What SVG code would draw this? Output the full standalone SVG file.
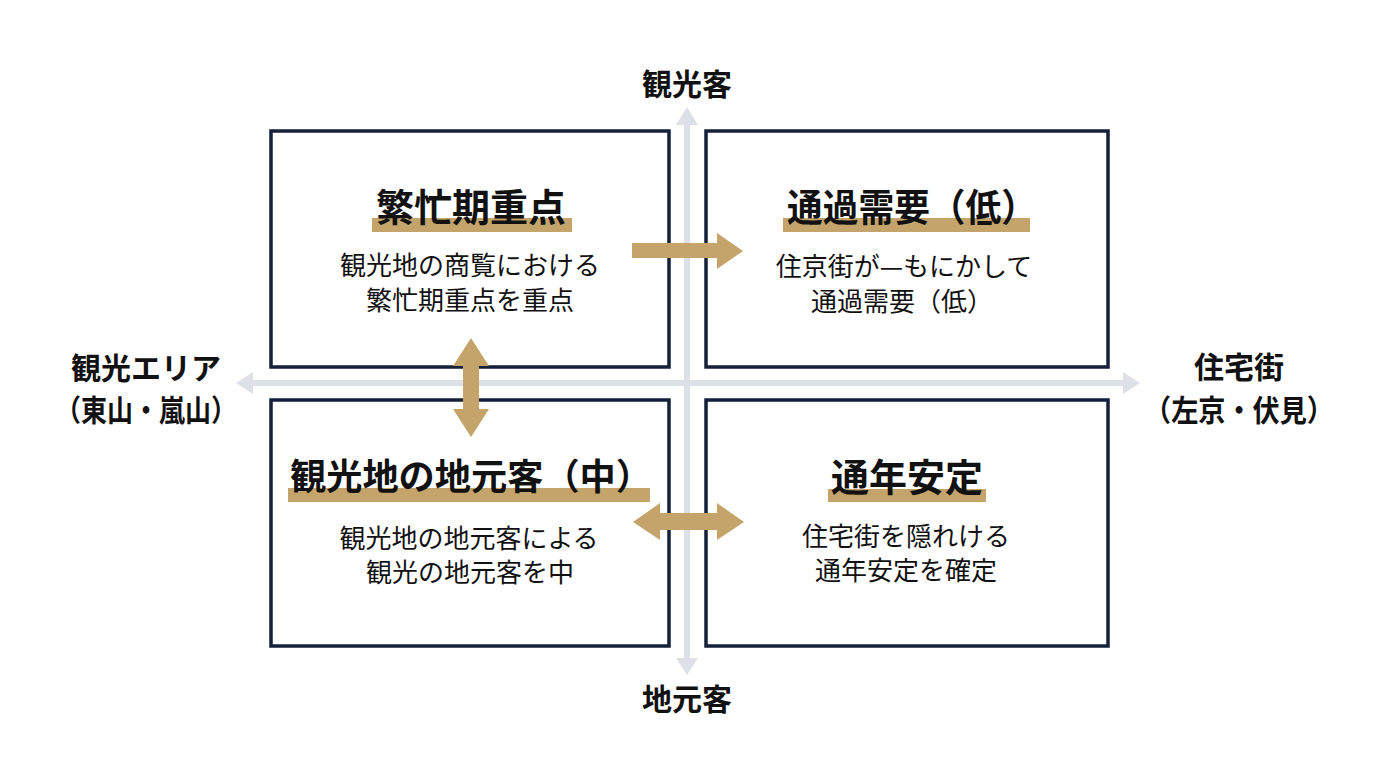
<svg xmlns="http://www.w3.org/2000/svg" width="1376" height="768" viewBox="0 0 1376 768">
<style>
.box{fill:#ffffff;stroke:#15213a;stroke-width:3.5}
.axis{fill:#dde0e6}
.gold{fill:#c4a46b}
.t{font-family:"Noto Sans CJK JP","Noto Sans CJK SC",sans-serif;fill:#111;text-anchor:middle}
.title{font-size:38px;font-weight:700}
.body{font-size:26px;font-weight:400}
.lab{font-size:30px;font-weight:700}
</style>
<rect width="1376" height="768" fill="#ffffff"/>
<g id="axes">
<rect class="axis" x="684" y="124" width="6" height="536"/>
<polygon class="axis" points="687,107 698,125 676,125"/>
<polygon class="axis" points="687,675 698,658 676,658"/>
<rect class="axis" x="252" y="380" width="872" height="6"/>
<polygon class="axis" points="236,383 253,372 253,394"/>
<polygon class="axis" points="1140,383 1123,372 1123,394"/>
</g>
<g id="box-tl">
<rect class="box" x="271" y="131" width="398" height="236"/>
<rect class="gold" x="372" y="218" width="200" height="14"/>
<text class="t title" x="471" y="221">繁忙期重点</text>
<text class="t body" x="470" y="275">観光地の商覧における</text>
<text class="t body" x="470" y="310">繁忙期重点を重点</text>
</g>
<g id="box-tr">
<rect class="box" x="706" y="131" width="402" height="236"/>
<rect class="gold" x="783" y="218" width="247" height="14"/>
<text class="t title" x="912" y="221" textLength="250" lengthAdjust="spacingAndGlyphs">通過需要（低）</text>
<text class="t body" x="904" y="276">住京街が—もにかして</text>
<text class="t body" x="902" y="311">通過需要（低）</text>
</g>
<g id="box-bl">
<rect class="box" x="271" y="400" width="398" height="246"/>
<rect class="gold" x="288" y="488" width="362" height="14"/>
<text class="t title" x="471" y="490" style="font-size:36px" textLength="362" lengthAdjust="spacingAndGlyphs">観光地の地元客（中）</text>
<text class="t body" x="469" y="548">観光地の地元客による</text>
<text class="t body" x="470" y="582">観光の地元客を中</text>
</g>
<g id="box-br">
<rect class="box" x="706" y="400" width="402" height="246"/>
<rect class="gold" x="828" y="489" width="158" height="13"/>
<text class="t title" x="907" y="491">通年安定</text>
<text class="t body" x="906" y="546">住宅街を隠れける</text>
<text class="t body" x="906" y="580">通年安定を確定</text>
</g>
<g id="labels">
<text class="t lab" x="687" y="95">観光客</text>
<text class="t lab" x="687" y="710">地元客</text>
<text class="t lab" x="146" y="379">観光エリア</text>
<text class="t lab" x="146" y="421" textLength="182" lengthAdjust="spacingAndGlyphs">（東山・嵐山）</text>
<text class="t lab" x="1239" y="378">住宅街</text>
<text class="t lab" x="1239" y="421" textLength="190" lengthAdjust="spacingAndGlyphs">（左京・伏見）</text>
</g>
<g id="connectors">
<polygon class="gold" points="632,243 717,243 717,233 743,251 717,269 717,258 632,258"/>
<polygon class="gold" points="471,338 489,366 479,366 479,409 489,409 471,437 453,409 463,409 463,366 453,366"/>
<polygon class="gold" points="633,522 660,503 660,513 717,513 717,503 744,522 717,540 717,530 660,530 660,540"/>
</g>
</svg>
